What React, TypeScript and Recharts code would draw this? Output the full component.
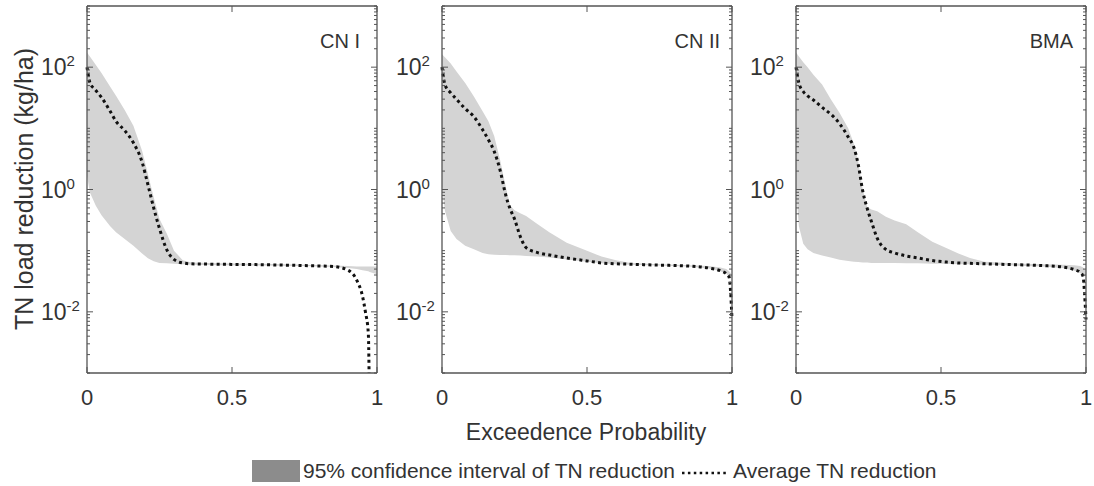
import React from "react";
import { ComposedChart, Area, Line, XAxis, YAxis } from "recharts";

const FONT = "'Liberation Sans', Arial, sans-serif";
const TEXT = "#333";
const AXIS = "#555";
const BAND = "#d4d4d4";
const TICK_MARGIN = 8;

// exceedence probability grid and TN load reduction (kg/ha)
const cn1Prob = [0, 0.01, 0.03, 0.05, 0.08, 0.1, 0.13, 0.16, 0.19, 0.21, 0.23, 0.25, 0.275, 0.3, 0.33, 0.36, 0.45, 0.6, 0.75, 0.85, 0.9, 0.93, 0.95, 0.96, 0.97, 0.975, 1];
const cn1Mean = [100, 56, 42, 32, 19, 13, 9.2, 5.8, 2.8, 1.2, 0.5, 0.23, 0.104, 0.072, 0.063, 0.061, 0.06, 0.059, 0.057, 0.055, 0.048, 0.033, 0.018, 0.01, 0.0045, 0.0001, null];
const cn1Low = [1.66, 0.89, 0.55, 0.38, 0.25, 0.2, 0.155, 0.12, 0.09, 0.075, 0.067, 0.063, 0.062, 0.061, 0.06, 0.059, 0.058, 0.057, 0.056, 0.054, 0.052, 0.05, 0.048, 0.047, 0.046, 0.045, 0.041];
const cn1High = [174, 150, 110, 80, 48, 34, 20, 11, 4.3, 1.8, 0.75, 0.33, 0.19, 0.1, 0.07, 0.064, 0.062, 0.061, 0.059, 0.057, 0.056, 0.055, 0.055, 0.055, 0.055, 0.055, 0.055];

const cn2Prob = [0, 0.01, 0.03, 0.05, 0.08, 0.11, 0.14, 0.16, 0.18, 0.2, 0.22, 0.235, 0.25, 0.27, 0.29, 0.33, 0.37, 0.43, 0.5, 0.55, 0.6, 0.65, 0.75, 0.85, 0.92, 0.96, 0.98, 0.99, 0.995, 1];
const cn2Mean = [100, 52, 38, 30, 21, 15.5, 9.5, 6.5, 4.2, 2.1, 0.8, 0.48, 0.33, 0.17, 0.112, 0.093, 0.085, 0.076, 0.068, 0.063, 0.061, 0.06, 0.058, 0.056, 0.052, 0.047, 0.042, 0.037, 0.022, 0.0075];
const cn2Low = [1.13, 0.45, 0.21, 0.155, 0.12, 0.105, 0.092, 0.087, 0.086, 0.085, 0.085, 0.084, 0.084, 0.083, 0.082, 0.08, 0.077, 0.072, 0.066, 0.062, 0.06, 0.059, 0.057, 0.055, 0.051, 0.046, 0.042, 0.038, 0.037, 0.035];
const cn2High = [163, 145, 115, 85, 55, 33, 19, 13, 7.5, 3.1, 1.1, 0.55, 0.46, 0.41, 0.37, 0.27, 0.2, 0.135, 0.1, 0.08, 0.07, 0.063, 0.06, 0.058, 0.056, 0.053, 0.05, 0.046, 0.043, 0.04];

const bmaProb = [0, 0.01, 0.025, 0.04, 0.06, 0.09, 0.12, 0.15, 0.18, 0.2, 0.215, 0.23, 0.245, 0.26, 0.28, 0.31, 0.34, 0.38, 0.42, 0.47, 0.52, 0.56, 0.6, 0.65, 0.75, 0.85, 0.92, 0.96, 0.98, 0.99, 0.995, 1];
const bmaMean = [100, 55, 40, 34, 29, 22, 17, 12, 7.2, 4.8, 2.5, 0.95, 0.5, 0.3, 0.16, 0.105, 0.092, 0.082, 0.076, 0.069, 0.065, 0.063, 0.062, 0.061, 0.059, 0.057, 0.054, 0.049, 0.044, 0.038, 0.02, 0.0075];
const bmaLow = [1.0, 0.25, 0.13, 0.105, 0.092, 0.083, 0.077, 0.071, 0.068, 0.066, 0.065, 0.064, 0.064, 0.063, 0.063, 0.063, 0.063, 0.062, 0.062, 0.061, 0.061, 0.06, 0.06, 0.059, 0.057, 0.055, 0.052, 0.047, 0.043, 0.04, 0.039, 0.038];
const bmaHigh = [174, 150, 120, 100, 75, 52, 30, 18, 10, 5.5, 2.8, 1.0, 0.52, 0.47, 0.44, 0.36, 0.31, 0.27, 0.2, 0.14, 0.11, 0.09, 0.076, 0.066, 0.062, 0.06, 0.059, 0.058, 0.056, 0.053, 0.05, 0.048];

const panelTitles = ["CN I", "CN II", "BMA"];
const panelLefts = [87, 442, 796];
const titleRight = [360, 720, 1073];

const xTicks = [0, 0.5, 1];
const xTickLabels = ["0", "0.5", "1"];
const yMajorTicks = [1e-2, 1, 1e2];
const yMajorExp = ["-2", "0", "2"];
const yDecades = [-3, -2, -1, 0, 1, 2];

const yTicks: number[] = [];
yDecades.forEach((d) => {
  for (let m = 1; m <= 9; m++) yTicks.push(Number((m * Math.pow(10, d)).toPrecision(6)));
});
yTicks.push(1000);

function majorIndex(v: number) {
  return yMajorTicks.findIndex((t) => Math.abs(v / t - 1) < 1e-6);
}

function YTick(props: any) {
  const { x, y, payload, side } = props;
  const mi = majorIndex(payload.value);
  const len = mi >= 0 ? 6 : 3;
  const axisX = side === "left" ? x + TICK_MARGIN : x - TICK_MARGIN;
  const dir = side === "left" ? 1 : -1;
  return (
    <g>
      <line x1={axisX} x2={axisX + dir * len} y1={y} y2={y} stroke={AXIS} strokeWidth={1} />
      {mi >= 0 && side === "left" && (
        <text x={axisX - 46} y={y} dy="0.35em" textAnchor="start" fontSize={23} fill={TEXT} fontFamily={FONT}>
          10
          <tspan dy={-9} fontSize={15}>
            {yMajorExp[mi]}
          </tspan>
        </text>
      )}
    </g>
  );
}

function XTick(props: any) {
  const { x, y, payload, side, index } = props;
  const axisY = side === "bottom" ? y - TICK_MARGIN : y + TICK_MARGIN;
  const dir = side === "bottom" ? -1 : 1;
  return (
    <g>
      <line x1={x} x2={x} y1={axisY} y2={axisY + dir * 6} stroke={AXIS} strokeWidth={1} />
      {side === "bottom" && (
        <text x={x} y={axisY + 24} dy="0.35em" textAnchor="middle" fontSize={22} fill={TEXT} fontFamily={FONT}>
          {xTickLabels[index] ?? String(payload.value)}
        </text>
      )}
    </g>
  );
}

function Panel({ left, prob, mean, low, high }: { left: number; prob: number[]; mean: (number | null)[]; low: number[]; high: number[] }) {
  const rows = prob.map((p, i) => ({ p, band: [low[i], high[i]], mean: mean[i] }));
  const axisLine = { stroke: AXIS, strokeWidth: 1.3 };
  return (
    <div style={{ position: "absolute", left: left - 60, top: 0 }}>
      <ComposedChart width={360} height={413} data={rows} margin={{ top: 0, right: 0, bottom: 0, left: 0 }}>
        <XAxis xAxisId="b" dataKey="p" type="number" domain={[0, 1]} ticks={xTicks} orientation="bottom" height={40}
          axisLine={axisLine} tickLine={false} tickSize={0} tickMargin={TICK_MARGIN} interval={0}
          tick={(p: any) => <XTick {...p} side="bottom" />} />
        <XAxis xAxisId="t" dataKey="p" type="number" domain={[0, 1]} ticks={xTicks} orientation="top" height={6}
          axisLine={axisLine} tickLine={false} tickSize={0} tickMargin={TICK_MARGIN} interval={0}
          tick={(p: any) => <XTick {...p} side="top" />} />
        <YAxis yAxisId="l" type="number" scale="log" domain={[1e-3, 1e3]} allowDataOverflow ticks={yTicks} width={60}
          axisLine={axisLine} tickLine={false} tickSize={0} tickMargin={TICK_MARGIN} interval={0}
          tick={(p: any) => <YTick {...p} side="left" />} />
        <YAxis yAxisId="r" type="number" scale="log" domain={[1e-3, 1e3]} allowDataOverflow ticks={yTicks} width={10}
          orientation="right" axisLine={axisLine} tickLine={false} tickSize={0} tickMargin={TICK_MARGIN} interval={0}
          tick={(p: any) => <YTick {...p} side="right" />} />
        <Area xAxisId="b" yAxisId="l" dataKey="band" type="linear" stroke="none" fill={BAND} fillOpacity={1}
          isAnimationActive={false} />
        <Line xAxisId="t" yAxisId="r" dataKey="mean" type="monotone" stroke="#111" strokeWidth={3}
          strokeDasharray="3 3.3" dot={false} activeDot={false} connectNulls={false} isAnimationActive={false} />
      </ComposedChart>
    </div>
  );
}

export default function App() {
  return (
    <div style={{ position: "absolute", left: 0, top: 0, width: 1094, height: 486, background: "#fff", fontFamily: FONT }}>
      <Panel left={panelLefts[0]} prob={cn1Prob} mean={cn1Mean} low={cn1Low} high={cn1High} />
      <Panel left={panelLefts[1]} prob={cn2Prob} mean={cn2Mean} low={cn2Low} high={cn2High} />
      <Panel left={panelLefts[2]} prob={bmaProb} mean={bmaMean} low={bmaLow} high={bmaHigh} />
      <svg width={1094} height={486} style={{ position: "absolute", left: 0, top: 0, pointerEvents: "none" }}>
        {panelTitles.map((t, i) => (
          <text key={t} x={titleRight[i]} y={48} textAnchor="end" fontSize={20} fill={TEXT} fontFamily={FONT}>
            {t}
          </text>
        ))}
        <text transform="translate(24,189) rotate(-90)" textAnchor="middle" dominantBaseline="central" fontSize={25}
          fill={TEXT} fontFamily={FONT}>
          TN load reduction (kg/ha)
        </text>
        <text x={586} y={440} textAnchor="middle" fontSize={23} fill={TEXT} fontFamily={FONT}>
          Exceedence Probability
        </text>
        <rect x={252} y={460} width={48} height={22} fill="#8c8c8c" />
        <text x={303} y={478} fontSize={21} fill={TEXT} fontFamily={FONT}>
          95% confidence interval of TN reduction
        </text>
        <line x1={682} x2={728} y1={473} y2={473} stroke="#111" strokeWidth={2.5} strokeDasharray="2.5 3.4" />
        <text x={733} y={478} fontSize={21} fill={TEXT} fontFamily={FONT}>
          Average TN reduction
        </text>
      </svg>
    </div>
  );
}
